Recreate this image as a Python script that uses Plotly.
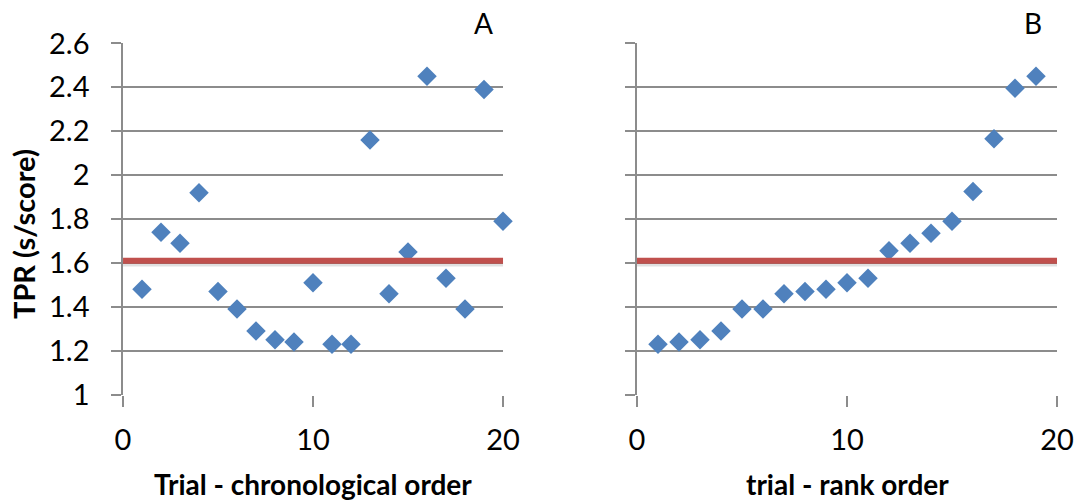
import plotly.graph_objects as go

# Panel A: chronological order
trial_a = list(range(1, 21))
tpr_a = [1.48, 1.74, 1.69, 1.92, 1.47, 1.39, 1.29, 1.25, 1.24, 1.51,
         1.23, 1.23, 2.16, 1.46, 1.65, 2.45, 1.53, 1.39, 2.39, 1.79]

# Panel B: rank order
trial_b = list(range(1, 20))
tpr_b = [1.23, 1.24, 1.25, 1.29, 1.39, 1.39, 1.46, 1.47, 1.48, 1.51,
         1.53, 1.655, 1.69, 1.735, 1.79, 1.925, 2.165, 2.395, 2.45]

# Reference (mean) line
mean_x = [0, 20.2]
mean_y = [1.61, 1.61]

y_ticks = [1, 1.2, 1.4, 1.6, 1.8, 2, 2.2, 2.4, 2.6]
y_ticktext = ["1", "1.2", "1.4", "1.6", "1.8", "2", "2.2", "2.4", "2.6"]
x_ticks = [0, 10, 20]

BLUE = "#4F81BD"
RED = "#C0504D"
GRID = "#8C8C8C"
FONT = "Lato"

fig = go.Figure()

for xs, ys, xa, ya in [(trial_a, tpr_a, "x", "y"), (trial_b, tpr_b, "x2", "y2")]:
    fig.add_trace(go.Scatter(x=xs, y=ys, mode="markers", xaxis=xa, yaxis=ya,
                             marker=dict(symbol="diamond", size=15, color=BLUE,
                                         line=dict(width=0)),
                             cliponaxis=False, showlegend=False))
    # faint shadow under the red line
    fig.add_trace(go.Scatter(x=mean_x, y=[v - 0.008 for v in mean_y], mode="lines",
                             xaxis=xa, yaxis=ya,
                             line=dict(color="rgba(0,0,0,0.12)", width=8),
                             cliponaxis=False, showlegend=False, hoverinfo="skip"))
    fig.add_trace(go.Scatter(x=mean_x, y=mean_y, mode="lines", xaxis=xa, yaxis=ya,
                             line=dict(color=RED, width=6),
                             cliponaxis=False, showlegend=False))

common_x = dict(range=[0, 20], tickvals=x_ticks, showgrid=False, zeroline=False,
                showline=False, ticks="outside", ticklen=11, tickwidth=1.5,
                tickcolor=GRID, tickfont=dict(family=FONT, size=29, color="#000"),
                ticklabelstandoff=9, automargin=False)
common_y = dict(range=[1, 2.6], tickvals=y_ticks, ticktext=y_ticktext,
                showgrid=True, gridcolor=GRID, gridwidth=1.5, zeroline=False,
                showline=True, linecolor=GRID, linewidth=1.5,
                ticks="outside", ticklen=10, tickwidth=1.5, tickcolor=GRID,
                tickfont=dict(family=FONT, size=29, color="#000"),
                domain=[0.217, 0.914], automargin=False)

title_font = dict(family=FONT, size=28, color="#000")

fig.update_layout(
    width=1082, height=504,
    margin=dict(l=0, r=0, t=0, b=0),
    paper_bgcolor="white", plot_bgcolor="white",
    xaxis=dict(**common_x, domain=[0.1137, 0.4649], anchor="y"),
    xaxis2=dict(**common_x, domain=[0.5887, 0.9769], anchor="y2"),
    yaxis=dict(**common_y, anchor="x", ticklabelstandoff=16),
    yaxis2=dict(**common_y, anchor="x2", showticklabels=False),
    annotations=[
        dict(text="<b>Trial - chronological order</b>", x=313 / 1082, y=1 - 484 / 504,
             xref="paper", yref="paper", xanchor="center", yanchor="middle",
             showarrow=False, font=title_font),
        dict(text="<b>trial - rank order</b>", x=847 / 1082, y=1 - 484 / 504,
             xref="paper", yref="paper", xanchor="center", yanchor="middle",
             showarrow=False, font=title_font),
        dict(text="<b>TPR (s/score)</b>", x=23 / 1082, y=1 - 234 / 504, textangle=-90,
             xref="paper", yref="paper", xanchor="center", yanchor="middle",
             showarrow=False, font=dict(family=FONT, size=29, color="#000")),
        dict(text="A", x=483 / 1082, y=1 - 23 / 504, xref="paper", yref="paper",
             xanchor="center", yanchor="middle", showarrow=False,
             font=dict(family=FONT, size=28, color="#000")),
        dict(text="B", x=1033 / 1082, y=1 - 23 / 504, xref="paper", yref="paper",
             xanchor="center", yanchor="middle", showarrow=False,
             font=dict(family=FONT, size=28, color="#000")),
    ],
)

fig.write_html("out.html")
